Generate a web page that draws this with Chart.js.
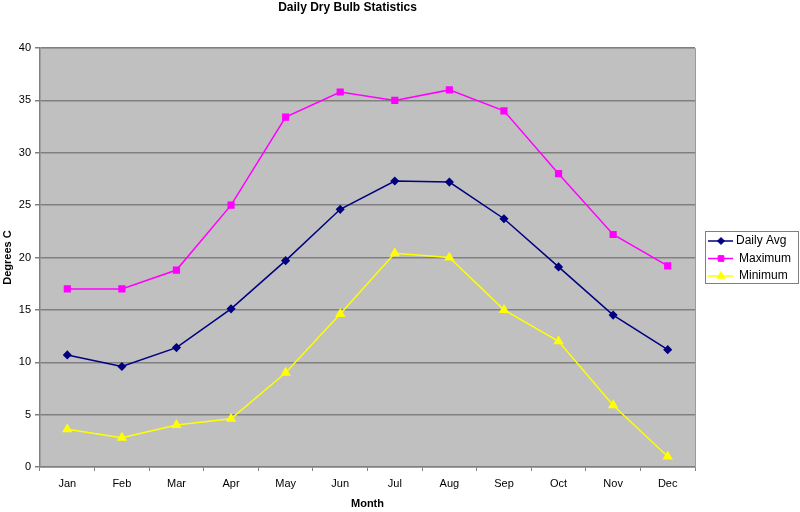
<!DOCTYPE html>
<html>
<head>
<meta charset="utf-8">
<script src="https://cdn.jsdelivr.net/npm/chart.js@4/dist/chart.umd.min.js"></script>
<style>
  html, body { margin: 0; padding: 0; background: #fff; }
  #wrap { width: 800px; height: 512px; }
</style>
</head>
<body>
<div id="wrap"><canvas id="chart" width="800" height="512"></canvas></div>
<script>
const months = ['Jan', 'Feb', 'Mar', 'Apr', 'May', 'Jun', 'Jul', 'Aug', 'Sep', 'Oct', 'Nov', 'Dec'];
const dailyAvg = [10.7, 9.6, 11.4, 15.1, 19.7, 24.6, 27.3, 27.2, 23.7, 19.1, 14.5, 11.2];
const maximum = [17.0, 17.0, 18.8, 25.0, 33.4, 35.8, 35.0, 36.0, 34.0, 28.0, 22.2, 19.2];
const minimum = [3.6, 2.8, 4.0, 4.6, 9.0, 14.6, 20.4, 20.0, 15.0, 12.0, 5.9, 1.0];
const yTicks = [0, 5, 10, 15, 20, 25, 30, 35, 40];

const FONT = "'Liberation Sans', Arial, sans-serif";

// grey plot background + border
const plotBg = {
    id: 'plotBg',
    beforeDraw(chart) {
        const a = chart.chartArea, ctx = chart.ctx;
        ctx.save();
        ctx.fillStyle = '#c0c0c0';
        ctx.fillRect(a.left, a.top, a.right - a.left, a.bottom - a.top);
        ctx.restore();
    },
    afterDatasetsDraw(chart) {
        const a = chart.chartArea, ctx = chart.ctx;
        ctx.save();
        ctx.strokeStyle = '#9a9a9a';
        ctx.lineWidth = 1;
        ctx.beginPath();
        ctx.moveTo(a.left, a.top + 0.5);
        ctx.lineTo(a.right + 0.5, a.top + 0.5);
        ctx.lineTo(a.right + 0.5, a.bottom);
        ctx.stroke();
        ctx.restore();
    }
};

// excel-style legend: line with marker, boxed
const boxLegend = {
    id: 'boxLegend',
    afterDraw(chart) {
        const ctx = chart.ctx;
        const x0 = 705, y0 = 231, w = 94, h = 53;
        ctx.save();
        ctx.fillStyle = '#fff';
        ctx.fillRect(x0, y0, w, h);
        ctx.strokeStyle = '#808080';
        ctx.lineWidth = 1;
        ctx.strokeRect(x0 + 0.5, y0 + 0.5, w - 1, h - 1);
        ctx.font = '12px ' + FONT;
        ctx.textBaseline = 'middle';
        chart.data.datasets.forEach((ds, i) => {
            const y = y0 + 10 + i * 17.5;
            ctx.strokeStyle = ds.borderColor;
            ctx.lineWidth = 1.5;
            ctx.beginPath();
            ctx.moveTo(x0 + 3, y);
            ctx.lineTo(x0 + 28, y);
            ctx.stroke();
            ctx.fillStyle = ds.pointBackgroundColor;
            ctx.strokeStyle = ds.pointBorderColor;
            ctx.lineWidth = 1;
            Chart.helpers.drawPoint(ctx, {
                pointStyle: ds.pointStyle,
                radius: ds.pointRadius,
                borderWidth: 1,
                rotation: 0
            }, x0 + 16, y);
            ctx.fillStyle = '#000';
            ctx.fillText(ds.label, x0 + (i === 0 ? 31 : 34), y);
        });
        ctx.restore();
    }
};

function series(label, data, color, style, r) {
    return {
        label: label,
        data: data,
        borderColor: color,
        backgroundColor: color,
        pointBackgroundColor: color,
        pointBorderColor: color,
        pointStyle: style,
        pointRadius: r,
        pointHoverRadius: r,
        borderWidth: 1.5,
        tension: 0
    };
}

new Chart(document.getElementById('chart').getContext('2d'), {
    type: 'line',
    data: {
        labels: months,
        datasets: [
            series('Daily Avg', dailyAvg, '#000080', 'rectRot', 3.5),
            series('Maximum', maximum, '#ff00ff', 'rect', 4),
            series('Minimum', minimum, '#ffff00', 'triangle', 4.5)
        ]
    },
    options: {
        responsive: false,
        animation: false,
        devicePixelRatio: 1,
        layout: { padding: { left: 0, right: 105, top: 0, bottom: 0 } },
        plugins: {
            legend: { display: false },
            tooltip: { enabled: false },
            title: {
                display: true,
                text: 'Daily Dry Bulb Statistics',
                color: '#000',
                font: { family: FONT, size: 12, weight: 'bold' },
                padding: { top: 0, bottom: 33.6 }
            }
        },
        scales: {
            x: {
                type: 'category',
                offset: true,
                grid: {
                    offset: true,
                    drawOnChartArea: false,
                    color: '#808080',
                    tickLength: 4,
                    tickColor: '#808080'
                },
                border: { color: '#808080', width: 1.5 },
                ticks: {
                    color: '#000',
                    padding: 6,
                    font: { family: FONT, size: 11 },
                    maxRotation: 0
                },
                title: {
                    display: true,
                    text: 'Month',
                    color: '#000',
                    font: { family: FONT, size: 11, weight: 'bold' },
                    padding: { top: 0, bottom: 1 }
                },
                afterFit(scale) { scale.height = 45; }
            },
            y: {
                min: 0,
                max: 40,
                afterBuildTicks(scale) { scale.ticks = yTicks.map(v => ({ value: v })); },
                grid: {
                    color: '#808080',
                    lineWidth: 1.5,
                    tickLength: 5,
                    tickColor: '#808080'
                },
                border: { color: '#808080', width: 1.5 },
                ticks: {
                    color: '#000',
                    padding: 4,
                    font: { family: FONT, size: 11 }
                },
                title: {
                    display: true,
                    text: 'Degrees C',
                    color: '#000',
                    font: { family: FONT, size: 11, weight: 'bold' },
                    padding: { top: 1, bottom: 0 }
                },
                afterFit(scale) { scale.width = 40; }
            }
        }
    },
    plugins: [plotBg, boxLegend]
});
</script>
</body>
</html>
